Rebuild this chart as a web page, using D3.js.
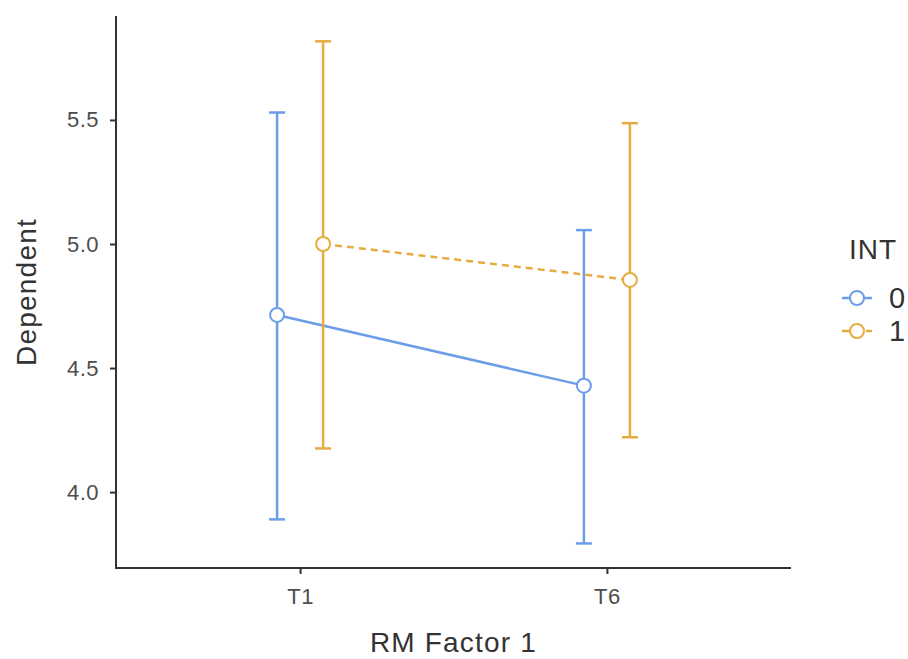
<!DOCTYPE html>
<html><head><meta charset="utf-8">
<script src="https://cdn.jsdelivr.net/npm/d3@7"></script>
<style>body{margin:0;background:#fff}svg{display:block}</style>
</head><body>
<svg id="c" width="908" height="659"></svg>
<script>
// ---- data ----
const categories = ["T1", "T6"];
const groups = ["0", "1"];
const mean0 = [4.714, 4.429];
const lower0 = [3.890, 3.793];
const upper0 = [5.530, 5.056];
const mean1 = [5.000, 4.855];
const lower1 = [4.176, 4.221];
const upper1 = [5.817, 5.487];
const yTicks = [4.0, 4.5, 5.0, 5.5];
const colors = ["#6B9DE8", "#E6AC40"];
const dashes = [null, "7,5"];

const series = [
  {key: groups[0], mean: mean0, lo: lower0, hi: upper0},
  {key: groups[1], mean: mean1, lo: lower1, hi: upper1}
];

const svg = d3.select("#c");
const font = "'Liberation Sans', Arial, sans-serif";
const pL = 116, pR = 791, pT = 16, pB = 568;

const x = d3.scalePoint().domain(categories).range([pL, pR]).padding(0.6);
const y = d3.scaleLinear().domain([3.694, 5.919]).range([pB, pT]);
const dodge = d3.scaleLinear().domain([0, groups.length - 1]).range([-0.075, 0.075]);
const px = (c, gi) => x(c) + dodge(gi) * x.step();

// axes
const yAxis = svg.append("g").attr("transform", `translate(${pL},0)`)
  .call(d3.axisLeft(y).tickValues(yTicks).tickFormat(d3.format(".1f")).tickSize(6).tickSizeOuter(0).tickPadding(11));
const xAxis = svg.append("g").attr("transform", `translate(0,${pB})`)
  .call(d3.axisBottom(x).tickSize(6).tickSizeOuter(0).tickPadding(14));
[yAxis, xAxis].forEach(a => {
  a.select(".domain").attr("stroke", "#333").attr("stroke-width", 2);
  a.selectAll(".tick line").attr("stroke", "#333").attr("stroke-width", 2);
  a.selectAll(".tick text").attr("fill", "#4d4d4d").style("font-family", font).style("font-size", "22px").style("letter-spacing", "0.5px");
});
yAxis.select(".domain").attr("d", `M0,${pT}V${pB + 1}`);
xAxis.select(".domain").attr("d", `M${pL - 1},0H${pR}`);

// axis titles
svg.append("text").attr("x", (pL + pR) / 2).attr("y", 652)
  .attr("text-anchor", "middle").attr("fill", "#333")
  .style("font-family", font).style("font-size", "28px").style("letter-spacing", "1.2px")
  .text("RM Factor 1");
svg.append("text").attr("transform", `translate(36,${(pT + pB) / 2}) rotate(-90)`)
  .attr("text-anchor", "middle").attr("fill", "#333")
  .style("font-family", font).style("font-size", "28px").style("letter-spacing", "1.2px")
  .text("Dependent");

// series
series.forEach((s, gi) => {
  const g = svg.append("g");
  const pts = categories.map((c, i) => ({c, i, m: s.mean[i], lo: s.lo[i], hi: s.hi[i]}));
  pts.forEach(p => {
    const cx = px(p.c, gi);
    g.append("line").attr("x1", cx).attr("x2", cx).attr("y1", y(p.lo)).attr("y2", y(p.hi))
      .attr("stroke", colors[gi]).attr("stroke-width", 2.5);
    [p.lo, p.hi].forEach(v => g.append("line").attr("x1", cx - 8).attr("x2", cx + 8)
      .attr("y1", y(v)).attr("y2", y(v)).attr("stroke", colors[gi]).attr("stroke-width", 2.5));
  });
  g.append("path").datum(pts)
    .attr("d", d3.line().x(p => px(p.c, gi)).y(p => y(p.m)))
    .attr("fill", "none").attr("stroke", colors[gi]).attr("stroke-width", 2.5)
    .attr("stroke-dasharray", dashes[gi]);
  g.selectAll("circle").data(pts).join("circle")
    .attr("cx", p => px(p.c, gi)).attr("cy", p => y(p.m)).attr("r", 7)
    .attr("fill", "#fff").attr("stroke", colors[gi]).attr("stroke-width", 2);
});

// legend
const lg = svg.append("g");
lg.append("text").attr("x", 849).attr("y", 259).attr("fill", "#333")
  .style("font-family", font).style("font-size", "28px").style("letter-spacing", "1px").text("INT");
series.forEach((s, gi) => {
  const ly = 298 + gi * 33;
  lg.append("line").attr("x1", 842).attr("x2", 872).attr("y1", ly).attr("y2", ly)
    .attr("stroke", colors[gi]).attr("stroke-width", 2.5).attr("stroke-dasharray", dashes[gi]);
  lg.append("circle").attr("cx", 857).attr("cy", ly).attr("r", 7)
    .attr("fill", "#fff").attr("stroke", colors[gi]).attr("stroke-width", 2);
  lg.append("text").attr("x", 889).attr("y", ly).attr("dy", "0.36em").attr("fill", "#333")
    .style("font-family", font).style("font-size", "29px").text(s.key);
});
</script>
</body></html>
